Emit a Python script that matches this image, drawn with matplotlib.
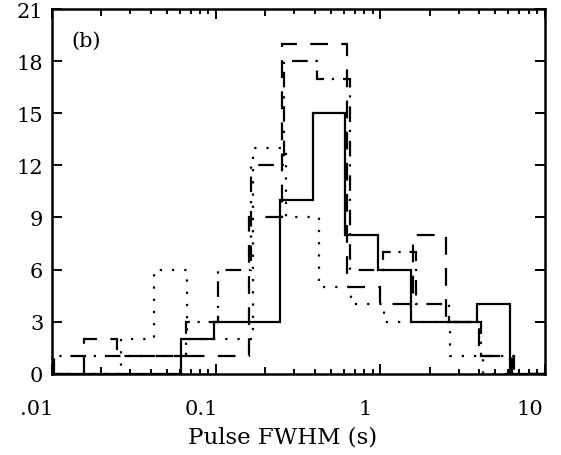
import matplotlib
matplotlib.use("Agg")
import matplotlib.pyplot as plt
from matplotlib.ticker import FixedLocator, FixedFormatter, NullFormatter
from matplotlib.transforms import ScaledTranslation

# pulse-width histograms, 0.2 dex bins from 0.01 s to 10 s
bin_edges = [0.01, 0.0158, 0.0251, 0.0398, 0.0631, 0.1, 0.158, 0.251,
             0.398, 0.631, 1.0, 1.585, 2.512, 3.981, 6.310, 10.0]

counts_solid = [0, 0, 0, 0, 2, 3, 3, 10, 15, 8, 6, 3, 3, 4, 0]
counts_dashed = [0, 2, 1, 1, 1, 1, 9, 19, 19, 5, 4, 8, 3, 1, 0]
counts_dotted = [0, 0, 2, 6, 2, 2, 13, 9, 5, 4, 3, 3, 1, 0, 0]
counts_dashdot = [1, 1, 1, 1, 3, 6, 12, 18, 17, 6, 7, 4, 3, 1, 0]

x_major = [0.01, 0.1, 1, 10]
x_major_labels = [".01", "0.1", "1", "10"]
y_ticks = [0, 3, 6, 9, 12, 15, 18, 21]

plt.rcParams["font.family"] = ["DejaVu Serif"]

fig = plt.figure(figsize=(5.61, 4.56), dpi=100)
ax = fig.add_axes([0.092, 0.178, 0.879, 0.8])

# small horizontal offsets (pixels) keep the overlapping outlines apart
series = [
    (counts_solid, "-", -2.0),
    (counts_dashed, (0, (8, 6)), 0.0),
    (counts_dotted, (0, (1, 4.5)), 4.0),
    (counts_dashdot, (0, (7, 3.5, 1, 4)), 2.5),
]
for counts, ls, dx in series:
    shift = ScaledTranslation(dx / 100.0, 0, fig.dpi_scale_trans)
    ax.stairs(counts, bin_edges, baseline=0, color="black", linewidth=1.6,
              linestyle=ls, transform=ax.transData + shift)

ax.set_xscale("log")
ax.set_xlim(0.01, 10)
ax.set_ylim(0, 21)

# decade ticks plus slightly longer ticks at 2x each decade
maj = []
maj_lab = []
for v, lab in zip(x_major, x_major_labels):
    maj.append(v)
    maj_lab.append(lab)
    if v < 10:
        maj.append(2 * v)
        maj_lab.append("")
minor = [k * d for d in [0.01, 0.1, 1] for k in range(3, 10)]
ax.xaxis.set_major_locator(FixedLocator(maj))
ax.xaxis.set_major_formatter(FixedFormatter(maj_lab))
ax.xaxis.set_minor_locator(FixedLocator(minor))
ax.xaxis.set_minor_formatter(NullFormatter())
ax.set_yticks(y_ticks)
ax.set_yticklabels([str(t) for t in y_ticks])

ax.tick_params(axis="both", which="both", direction="in", top=True, right=True,
               width=1.4, labelsize=15)
ax.tick_params(axis="both", which="major", length=7.5)
ax.tick_params(axis="x", which="major", pad=18)
ax.tick_params(axis="y", which="major", pad=6)
ax.tick_params(axis="x", which="minor", length=3.8)

for tick, v in zip(ax.xaxis.get_major_ticks(), maj):
    if v not in x_major:
        tick.tick1line.set_markersize(5.2)
        tick.tick2line.set_markersize(5.2)

label_shift = ScaledTranslation(-0.15, 0, fig.dpi_scale_trans)
for lab in ax.get_xticklabels():
    lab.set_transform(lab.get_transform() + label_shift)

for side in ax.spines.values():
    side.set_linewidth(1.8)

ax.set_xlabel("Pulse FWHM (s)", fontsize=16.5)
ax.xaxis.set_label_coords(0.468, -0.142)
ax.text(0.04, 0.915, "(b)", transform=ax.transAxes, fontsize=15,
        ha="left", va="center")

fig.savefig("out.png", dpi=100)
